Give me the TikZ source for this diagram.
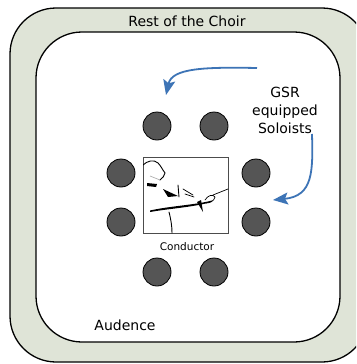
\documentclass[tikz,border=0pt]{standalone}
\usepackage{fontspec}
\setmainfont{DejaVu Sans}
\usetikzlibrary{arrows.meta}
\definecolor{stagegreen}{HTML}{DFE4D7}
\definecolor{singer}{HTML}{555555}
\definecolor{pointer}{HTML}{3D74B6}
\tikzset{
  zone/.style={draw=black, line width=1.3pt, rounded corners=46pt},
  soloist/.style={circle, draw=black, line width=0.8pt, fill=singer, minimum size=28pt, inner sep=0pt},
  caption/.style={font=\fontsize{14}{18}\selectfont, inner sep=0pt},
  photo/.style={draw=black!70, line width=0.8pt, fill=white, minimum width=85pt, minimum height=76pt, inner sep=0pt},
  pointerarrow/.style={draw=pointer, line width=1.8pt, -{Stealth[length=15pt,width=12pt,inset=3pt]}},
  ink/.style={line width=0.9pt, line cap=round},
}
\begin{document}
\begin{tikzpicture}[x=1pt,y=-1pt]
\useasboundingbox (0,0) rectangle (356,364);
\begin{scope}
\clip (0,0) rectangle (356,364);
% choir ring and audience area
\draw[zone, fill=stagegreen] (10,8) rectangle (368,362);
\draw[zone, fill=white] (36,32) rectangle (340,342);
\end{scope}

\node[caption] (choir) at (187,21) {Rest of the Choir};
\node[caption] (audience) at (125,325) {Audence};
\node[caption, align=center] (gsr) at (285,110) {GSR\\equipped\\Soloists};

% soloists around the conductor
\node[soloist] (s1) at (157,126) {};
\node[soloist] (s2) at (214,126) {};
\node[soloist] (s3) at (121,173) {};
\node[soloist] (s4) at (256,173) {};
\node[soloist] (s5) at (121,222) {};
\node[soloist] (s6) at (256,222) {};
\node[soloist] (s7) at (157,272) {};
\node[soloist] (s8) at (214,272) {};

% conductor picture
\node[photo] (cond) at (186,195) {};
\node[font=\fontsize{10.5}{12}\selectfont, inner sep=0pt] (condlabel) at (187,247) {Conductor};
\begin{scope}
\clip (cond.south west) rectangle (cond.north east);
% head
\draw[ink] (143,165) .. controls (147,161) and (154,159) .. (158,163)
  .. controls (161,166) and (162,169) .. (165,173)
  .. controls (164,176) and (163,178) .. (160,180);
\draw[black!35, line width=0.6pt] (150,176) -- (160,180);
% shoulder and arm
\fill (147,183) -- (157,184) -- (156,187) -- (147,186) -- cycle;
\fill (163,189) -- (178,196) -- (168,197) -- cycle;
\draw[ink] (178,185) -- (179,197);
\draw[ink, line width=0.7pt] (183,189) -- (193,195);
\draw[ink, line width=0.7pt] (185,194) -- (194,197);
% sleeve and body
\fill (150,210.5) .. controls (170,206) and (195,205) .. (212,200.5)
  -- (212,201.8) .. controls (195,207) and (170,208.5) .. (150,212) -- cycle;
\fill (197,202) -- (201,200) -- (203,212) -- cycle;
\draw[ink] (169,212) .. controls (171,220) and (172,226) .. (172,233);
% hand and baton
\draw[ink, line width=0.7pt] (205,200) .. controls (208,195) and (213,194) .. (215,197)
  .. controls (214,201) and (210,203) .. (206,203);
\draw[ink, line width=0.7pt] (213,195) -- (228,189);
\end{scope}

% pointers from the caption to the soloists
\coordinate (p1start) at (257,68);
\coordinate (p1end) at (166,95);
\coordinate (p2start) at (312,134);
\coordinate (p2end) at (273,200);
\draw[pointerarrow] (p1start) .. controls (205,67) and (172,68) .. (p1end);
\draw[pointerarrow] (p2start) .. controls (313,172) and (313,196) .. (p2end);
\end{tikzpicture}
\end{document}
